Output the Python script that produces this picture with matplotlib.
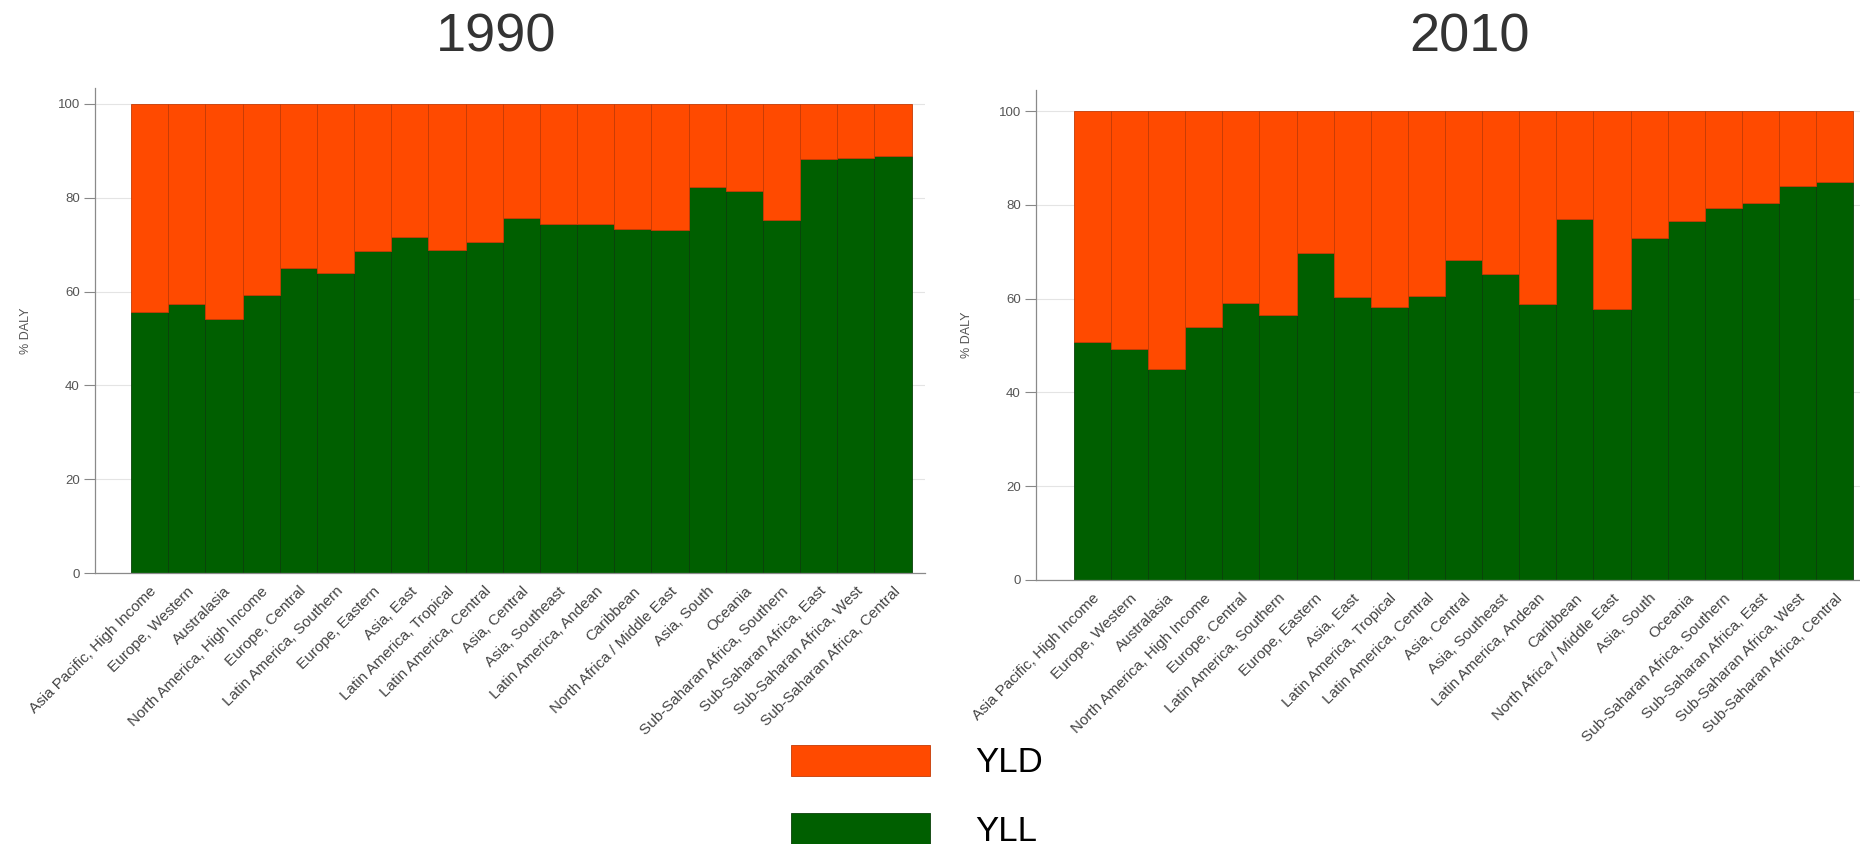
import matplotlib
matplotlib.use("Agg")
import matplotlib.pyplot as plt
from matplotlib.patches import Patch
import numpy as np

plt.rcParams['font.family'] = ['Liberation Sans', 'DejaVu Sans']

regions = [
    "Asia Pacific, High Income", "Europe, Western", "Australasia",
    "North America, High Income", "Europe, Central", "Latin America, Southern",
    "Europe, Eastern", "Asia, East", "Latin America, Tropical",
    "Latin America, Central", "Asia, Central", "Asia, Southeast",
    "Latin America, Andean", "Caribbean", "North Africa / Middle East",
    "Asia, South", "Oceania", "Sub-Saharan Africa, Southern",
    "Sub-Saharan Africa, East", "Sub-Saharan Africa, West",
    "Sub-Saharan Africa, Central",
]

# share of DALYs from years of life lost, per region (percent)
yll_1990 = [55.7, 57.3, 54.1, 59.2, 65.1, 63.9, 68.6, 71.6, 68.8, 70.6, 75.7,
            74.4, 74.5, 73.4, 73.1, 82.2, 81.5, 75.2, 88.3, 88.4, 89.0]
yll_2010 = [50.8, 49.2, 45.1, 53.9, 59.1, 56.5, 69.8, 60.4, 58.3, 60.6, 68.2,
            65.2, 58.8, 76.9, 57.9, 73.0, 76.5, 79.4, 80.5, 84.0, 84.9]

orange = "#ff4a00"
green = "#005f00"

fig = plt.figure(figsize=(18.6, 8.44), dpi=100)

W, H = 1860.0, 844.0
# (left, right, bottom, top) in pixels, plus x/y limits
panels = [
    dict(year="1990", yll=yll_1990, box=(95, 925, 573, 88), xlim=(-1.47, 20.86),
         ytop=103.4, title_x=496),
    dict(year="2010", yll=yll_2010, box=(1036, 1860, 580, 90), xlim=(-1.52, 20.68),
         ytop=104.5, title_x=1470),
]

for p in panels:
    l, r, b, t = p["box"]
    ax = fig.add_axes([l / W, 1 - b / H, (r - l) / W, (b - t) / H])
    x = np.arange(len(regions))
    yll = np.array(p["yll"])
    yld = 100 - yll
    ax.bar(x, yll, width=1.0, color=green, edgecolor="#0a3f0a", linewidth=0.6, zorder=2)
    ax.bar(x, yld, width=1.0, bottom=yll, color=orange, edgecolor="#c43a05",
           linewidth=0.6, zorder=2)

    ax.set_xlim(*p["xlim"])
    ax.set_ylim(0, p["ytop"])
    ax.set_yticks([0, 20, 40, 60, 80, 100])
    ax.yaxis.grid(True, color="#e4e4e4", linewidth=0.8, zorder=0)
    ax.set_axisbelow(True)
    ax.tick_params(axis="y", length=8, width=0.8, color="#888888",
                   labelsize=9.5, labelcolor="#555555", pad=3)
    ax.set_xticks(x)
    ax.set_xticklabels(regions, rotation=45, ha="right", rotation_mode="anchor",
                       fontsize=11, color="#444444")
    ax.tick_params(axis="x", length=0, pad=8)
    for side in ("top", "right"):
        ax.spines[side].set_visible(False)
    for side in ("left", "bottom"):
        ax.spines[side].set_color("#8a8a8a")
        ax.spines[side].set_linewidth(0.9)
    ax.set_ylabel("% DALY", fontsize=9, color="#555555", labelpad=18)

    fig.text(p["title_x"] / W, 1 - 38 / H, p["year"], fontsize=39,
             color="#333333", ha="center", va="center")

handles = [Patch(facecolor=orange, edgecolor="#c43a05", linewidth=0.6),
           Patch(facecolor=green, edgecolor="#0a3f0a", linewidth=0.6)]
fig.legend(handles, ["YLD", "YLL"], loc="upper left",
           bbox_to_anchor=(791 / W, 1 - 745 / H), frameon=False, fontsize=25,
           handlelength=4.0, handleheight=1.0, handletextpad=1.3,
           labelspacing=0.97, borderpad=0, borderaxespad=0)

fig.savefig("out.png", dpi=100, facecolor="white")
